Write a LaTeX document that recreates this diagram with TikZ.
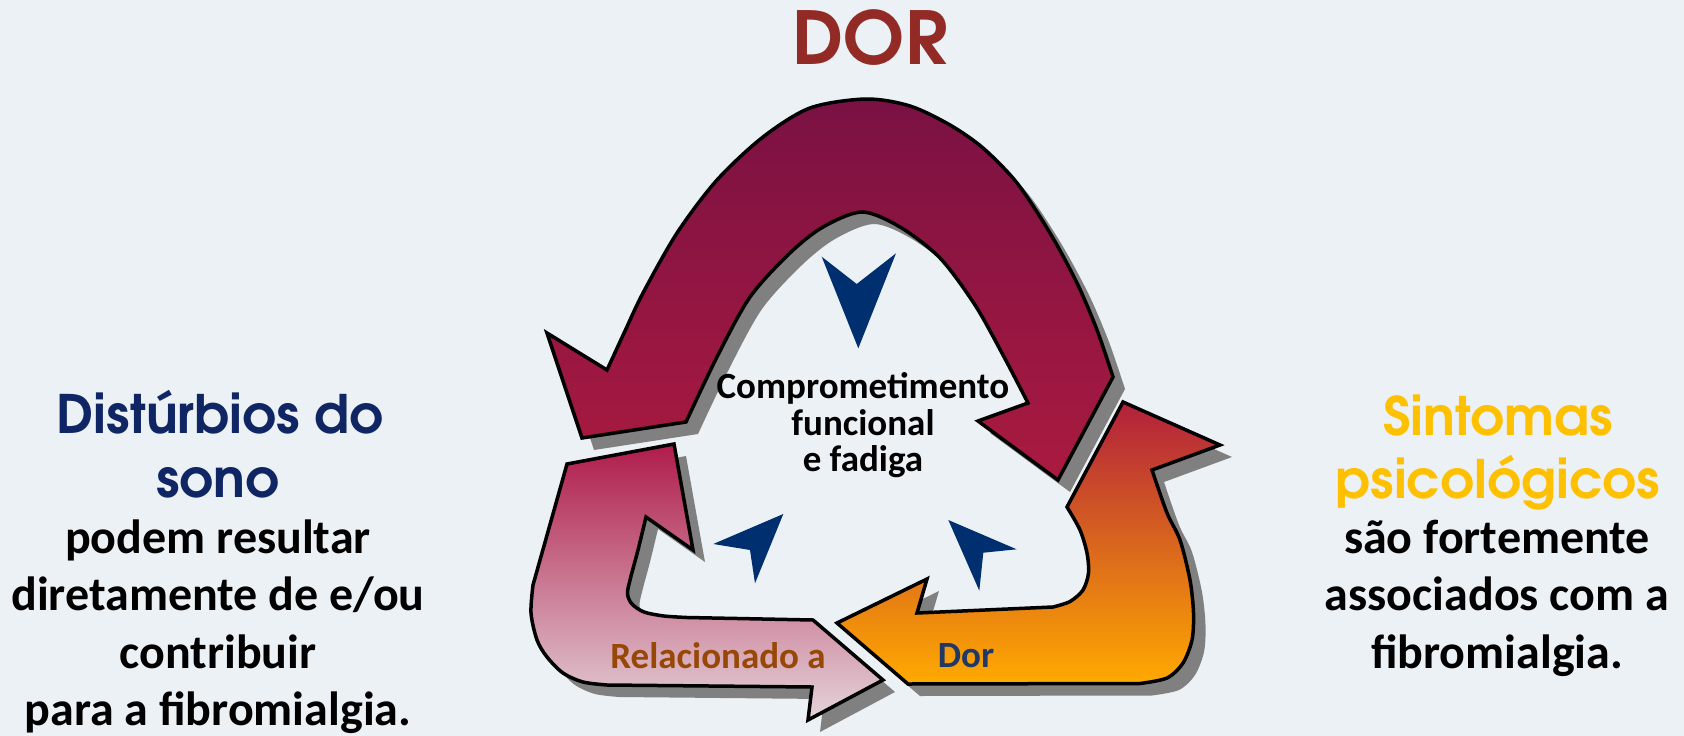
\documentclass[tikz,border=0pt]{standalone}
\usepackage{fontspec}
\setmainfont{Carlito}
\newfontfamily\gothic{texgyreadventor}[Extension=.otf, UprightFont=*-regular, BoldFont=*-bold]

\definecolor{bgcol}{RGB}{236,241,245}
\definecolor{shadowgray}{RGB}{128,128,128}
\definecolor{dorred}{RGB}{146,43,38}
\definecolor{sleepnavy}{RGB}{16,38,100}
\definecolor{psygold}{RGB}{255,192,0}
\definecolor{relbrown}{RGB}{151,71,6}
\definecolor{dornavy}{RGB}{31,56,100}
\definecolor{chevblue}{RGB}{0,47,112}
\definecolor{archtop}{RGB}{122,17,67}
\definecolor{archbot}{RGB}{170,26,64}
\definecolor{pinktop}{RGB}{175,28,75}
\definecolor{pinkbot}{RGB}{228,212,218}
\definecolor{orangetop}{RGB}{178,32,60}
\definecolor{orangebot}{RGB}{255,170,0}

% outlines of the three double-headed cycle arrows (pixel units, y downwards)
\newcommand\archpath{plot[smooth] coordinates {(607,370) (625,331) (643,293) (677,233) (717,180) (763,137) (810,108) (866,99) (910,106) (950,125) (983,148) (1017,183) (1050,233) (1077,283) (1097,330) (1113,377)}
  -- (1058,480) -- (978,421) -- (1028,403)
  -- plot[smooth] coordinates {(1028,403) (1003,355) (975,305) (940,258) (900,227) (862,212) (823,227) (790,253) (750,297) (717,357) (686,422)}
  -- (582,438) -- (547,333) -- cycle}
\newcommand\pinkpath{(567,464) -- (674,444) -- (693,550) -- (646,517)
  -- plot[smooth] coordinates {(646,517) (638,550) (630,580) (627.5,594) (632,604) (644,612) (664,616) (687,617.5)}
  -- (813,620) -- (883,680) -- (808,720) -- (812,687) -- (607,685)
  -- plot[smooth] coordinates {(607,685) (583,682) (563,673) (547,657) (537,640) (531,613) (533,585)}
  -- cycle}
\newcommand\orangepath{(1067,507) -- (1123,402) -- (1220,445) -- (1152,470)
  -- plot[smooth] coordinates {(1152,470) (1167,513) (1180,540) (1190,580) (1193.5,613) (1192,640) (1183,663) (1167,678) (1140,683.5)}
  -- (908,684) -- (837,623) -- (927,579) -- (917,613) -- (1053,607)
  -- plot[smooth] coordinates {(1053,607) (1070,601.5) (1083,590) (1088.5,573) (1087,553) (1080,530) (1067,507)}
  -- cycle}

\tikzset{
  outline/.style={draw=black, line width=3.5pt},
  dropshadow/.style={fill=shadowgray, shift={(12,12)}},
  chev/.style={fill=chevblue},
  heading/.style={font=\gothic\bfseries\fontsize{53}{62}\selectfont, inner sep=0pt, anchor=base},
  bodytext/.style={font=\bfseries\fontsize{48}{56}\selectfont, inner sep=0pt, anchor=base},
  centertext/.style={font=\bfseries\fontsize{37}{42}\selectfont, inner sep=0pt, anchor=base},
}

\begin{document}
\begin{tikzpicture}[x=1pt, y=-1pt]
  \useasboundingbox (0,0) rectangle (1684,736);
  \fill[bgcol] (0,0) rectangle (1684,736);

  % drop shadows
  \fill[dropshadow] \archpath;
  \fill[dropshadow] \pinkpath;
  \fill[dropshadow] \orangepath;

  % arrows
  \draw[outline, top color=archtop, bottom color=archbot] \archpath;
  \draw[outline, top color=pinktop, bottom color=pinkbot] \pinkpath;
  \draw[outline, top color=orangetop, bottom color=orangebot] \orangepath;

  % inner chevrons
  \fill[chev] (821.7,256.7) -- (856.7,284) -- (896,253.3) -- (858.3,348.3) -- cycle;
  \fill[chev] (713.3,544) -- (783.3,514) -- (755,583.3) -- (750,550) -- cycle;
  \fill[chev] (948.3,520) -- (1016.7,549.3) -- (983.3,552.7) -- (979.3,590.7) -- cycle;

  % title
  \node[font=\gothic\bfseries\fontsize{73}{80}\selectfont, text=dorred, inner sep=0pt, anchor=base] (title) at (870,64) {DOR};

  % centre labels
  \node[centertext] (cf1) at (863,398) {Comprometimento};
  \node[centertext] (cf2) at (863,435) {funcional};
  \node[centertext] (cf3) at (863,471) {e fadiga};
  \node[centertext, text=relbrown] (rel) at (718,668) {Relacionado a};
  \node[centertext, text=dornavy] (dor) at (966,667) {Dor};

  % left column
  \node[heading, text=sleepnavy] (sleep1) at (220,433) {Distúrbios do};
  \node[heading, text=sleepnavy] (sleep2) at (218,497) {sono};
  \node[bodytext] (left1) at (218,553) {podem resultar};
  \node[bodytext] (left2) at (218,610) {diretamente de e/ou};
  \node[bodytext] (left3) at (218,668) {contribuir};
  \node[bodytext] (left4) at (218,725) {para a fibromialgia.};

  % right column
  \node[heading, text=psygold] (psy1) at (1498,435) {Sintomas};
  \node[heading, text=psygold] (psy2) at (1498,498) {psicológicos};
  \node[bodytext] (right1) at (1497,553) {são fortemente};
  \node[bodytext] (right2) at (1497,610) {associados com a};
  \node[bodytext] (right3) at (1497,668) {fibromialgia.};
\end{tikzpicture}
\end{document}
